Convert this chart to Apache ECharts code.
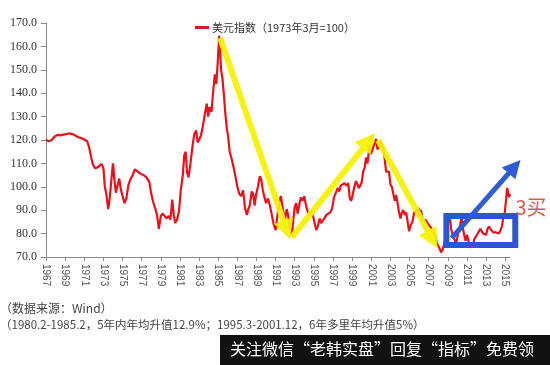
<!DOCTYPE html>
<html><head><meta charset="utf-8">
<script src="https://cdn.jsdelivr.net/npm/echarts@6/dist/echarts.min.js"></script>
<style>html,body{margin:0;padding:0;background:#fff}#c{width:550px;height:365px}</style>
</head><body><div id="c"></div>
<script>
// ---- data ----
const seriesName = '美元指数（1973年3月=100）';
const years = [1967.0,1967.3,1967.6,1967.9,1968.2,1968.5,1968.8,1969.1,1969.4,1969.6,1969.8,1970.1,1970.4,1970.7,1971.0,1971.3,1971.5,1971.7,1971.9,1972.1,1972.4,1972.6,1972.8,1973.0,1973.15,1973.3,1973.5,1973.6,1973.75,1973.9,1974.0,1974.15,1974.3,1974.5,1974.65,1974.8,1975.0,1975.2,1975.4,1975.6,1975.8,1976.0,1976.3,1976.6,1976.9,1977.2,1977.5,1977.8,1978.0,1978.2,1978.4,1978.6,1978.8,1979.0,1979.2,1979.4,1979.6,1979.8,1980.0,1980.2,1980.35,1980.5,1980.7,1980.9,1981.1,1981.3,1981.45,1981.6,1981.75,1981.9,1982.1,1982.3,1982.5,1982.7,1982.85,1983.0,1983.2,1983.4,1983.6,1983.8,1983.95,1984.1,1984.3,1984.5,1984.65,1984.8,1984.95,1985.1,1985.2,1985.3,1985.45,1985.6,1985.75,1985.9,1986.05,1986.2,1986.4,1986.6,1986.8,1987.0,1987.2,1987.4,1987.6,1987.8,1988.0,1988.15,1988.3,1988.5,1988.65,1988.8,1988.95,1989.15,1989.35,1989.5,1989.65,1989.8,1990.0,1990.2,1990.4,1990.6,1990.8,1991.0,1991.2,1991.4,1991.55,1991.7,1991.85,1992.0,1992.15,1992.3,1992.45,1992.6,1992.7,1992.85,1993.0,1993.15,1993.3,1993.5,1993.65,1993.8,1994.0,1994.15,1994.3,1994.5,1994.65,1994.8,1994.95,1995.1,1995.25,1995.4,1995.6,1995.75,1995.9,1996.1,1996.3,1996.5,1996.7,1996.9,1997.1,1997.3,1997.5,1997.65,1997.8,1998.0,1998.2,1998.4,1998.6,1998.75,1998.9,1999.05,1999.2,1999.4,1999.55,1999.7,1999.85,2000.0,2000.15,2000.3,2000.45,2000.6,2000.75,2000.85,2000.95,2001.1,2001.25,2001.4,2001.5,2001.65,2001.8,2001.95,2002.1,2002.25,2002.4,2002.55,2002.7,2002.85,2003.0,2003.15,2003.3,2003.45,2003.6,2003.75,2003.9,2004.05,2004.2,2004.35,2004.5,2004.65,2004.8,2004.95,2005.1,2005.3,2005.45,2005.6,2005.75,2005.9,2006.05,2006.2,2006.35,2006.5,2006.65,2006.8,2006.95,2007.1,2007.25,2007.4,2007.55,2007.7,2007.85,2008.0,2008.15,2008.3,2008.45,2008.55,2008.7,2008.85,2008.95,2009.1,2009.2,2009.35,2009.5,2009.7,2009.85,2009.95,2010.1,2010.3,2010.45,2010.55,2010.7,2010.85,2011.0,2011.15,2011.3,2011.45,2011.6,2011.75,2011.9,2012.05,2012.2,2012.4,2012.55,2012.7,2012.85,2013.0,2013.15,2013.3,2013.45,2013.6,2013.75,2013.9,2014.05,2014.2,2014.35,2014.5,2014.65,2014.8,2014.95,2015.1,2015.2,2015.3,2015.4,2015.5];
const dxy = [120.0,119.5,120.0,121.5,122.2,122.0,122.3,122.5,122.8,123.5,122.5,121.8,121.2,120.8,120.2,119.5,117.0,113.0,109.5,108.0,108.3,109.0,109.8,108.0,100.0,97.0,90.5,93.0,99.0,106.0,110.0,103.0,97.5,101.0,103.5,99.5,96.0,93.0,95.0,100.5,103.0,104.5,107.5,106.5,105.5,105.0,104.0,102.0,97.0,93.5,91.0,88.0,82.0,87.5,88.5,89.0,86.5,87.5,86.0,94.5,88.0,84.5,86.0,89.5,99.0,105.0,113.5,115.0,106.0,104.0,110.0,117.0,122.5,124.0,119.0,120.0,122.0,126.0,131.0,135.5,130.0,134.0,132.0,142.0,148.0,144.0,153.0,164.5,158.0,150.0,146.0,139.0,131.0,125.0,121.0,115.0,112.0,108.5,104.5,100.0,97.0,96.0,98.5,91.0,88.0,90.5,92.0,98.0,97.0,92.0,96.5,100.0,104.5,103.0,99.0,96.0,93.0,95.0,92.0,88.0,84.0,81.5,88.0,94.0,96.0,92.0,88.5,86.0,90.5,88.0,84.0,81.0,79.0,86.0,91.5,93.0,88.5,93.0,95.5,94.0,96.0,92.5,90.0,88.0,89.5,88.5,87.0,84.0,81.5,83.0,86.5,84.5,85.5,86.5,88.0,87.5,89.0,90.5,95.5,97.5,99.5,98.0,100.5,100.0,101.5,100.5,101.5,95.0,94.0,96.5,99.5,102.5,103.0,99.5,100.5,102.0,106.5,108.0,112.5,110.0,115.0,118.0,114.0,115.5,117.5,119.0,120.5,116.0,117.0,119.5,120.0,116.5,112.0,106.5,107.0,106.5,101.0,100.0,97.0,94.0,96.5,93.0,89.0,86.5,89.0,90.0,88.0,89.0,85.0,81.0,83.5,85.0,88.5,90.0,89.0,91.0,89.0,90.0,86.5,85.0,86.0,85.0,84.0,84.5,82.5,82.0,80.5,79.0,76.0,75.5,73.5,72.0,73.0,72.5,77.0,85.5,82.0,86.5,88.0,82.0,79.5,77.5,75.5,77.5,80.5,84.0,87.5,83.0,79.5,77.0,79.5,77.0,74.0,75.0,74.0,77.5,78.5,79.5,79.0,82.0,82.5,80.0,80.5,79.5,82.0,83.0,82.0,82.5,80.5,80.5,80.5,79.8,80.0,80.5,83.0,87.0,89.0,95.0,99.5,97.5,95.5,97.0];
const yearStart = 1967, yearEnd = 2015.5, yearStep = 2;
const yMin = 70, yMax = 170, yStep = 10;
// annotation anchors (data space)
const yellowArrows = [[[1985.2,163.6],[1992.5,77.5]],[[1992.7,78.5],[2001.4,123.0]],[[2001.7,120.0],[2007.9,73.8]]];
const blueBox = [[2008.85,87.5],[2016.05,75.1]];
const blueArrow = [[2009.4,78.1],[2016.6,111.5]];
const buyLabel = {text:'3买', at:[2017.7,91.0]};
const sourceNote = '（数据来源：Wind）';
const rangeNote = '（1980.2-1985.2，5年内年均升值12.9%；1995.3-2001.12，6年多里年均升值5%）';
const bannerText = '关注微信“老韩实盘”回复“指标”免费领';

const off = v => v - yearStart;
const chart = echarts.init(document.getElementById('c'), null, {renderer:'canvas'});
const lineData = years.map((y,i)=>[off(y), dxy[i]]);

chart.setOption({
  animation:false,
  backgroundColor:'#fff',
  grid:{left:46, right:40, top:23, bottom:108},
  legend:{
    data:[seriesName], left:190, top:17, icon:'rect', itemWidth:14, itemHeight:3, itemGap:4,
    textStyle:{fontFamily:'Noto Sans CJK SC', fontSize:11, color:'#333', padding:[0,0,0,-2]}
  },
  xAxis:{
    type:'value', min:off(yearStart), max:off(yearEnd), interval:yearStep,
    axisLine:{lineStyle:{color:'#888', width:1}},
    axisTick:{show:true, length:4, lineStyle:{color:'#888'}},
    splitLine:{show:false},
    axisLabel:{rotate:-90, margin:7, fontFamily:'Liberation Sans', fontSize:10, color:'#555',
      showMaxLabel:false,
      formatter:v=>Number.isInteger(v)?String(v+yearStart):''}
  },
  yAxis:{
    type:'value', min:yMin, max:yMax, interval:yStep,
    axisLine:{show:true, lineStyle:{color:'#888', width:1}},
    axisTick:{show:true, length:5, lineStyle:{color:'#888'}},
    splitLine:{show:false},
    axisLabel:{margin:9, fontFamily:'Liberation Serif', fontSize:12, color:'#333', formatter:v=>v.toFixed(1)}
  },
  series:[{
    name:seriesName, type:'line', data:lineData, symbol:'none',
    lineStyle:{color:'#e8121c', width:2.2}, itemStyle:{color:'#e8121c'}
  }]
});

// annotations placed through the chart's own scales
const px = p => chart.convertToPixel({gridIndex:0}, [off(p[0]), p[1]]);
function arrow(p0, p1, color, width, headLen, headW, z){
  const a = px(p0), b = px(p1);
  const dx = b[0]-a[0], dy = b[1]-a[1], L = Math.hypot(dx,dy);
  const ux = dx/L, uy = dy/L, nx = -uy, ny = ux;
  const bx = b[0]-ux*headLen, by = b[1]-uy*headLen;
  return [
    {type:'line', z:z, shape:{x1:a[0], y1:a[1], x2:bx+ux*2, y2:by+uy*2}, style:{stroke:color, lineWidth:width, lineCap:'butt'}},
    {type:'polygon', z:z, shape:{points:[[b[0],b[1]],[bx+nx*headW/2, by+ny*headW/2],[bx-nx*headW/2, by-ny*headW/2]]}, style:{fill:color}}
  ];
}
const g = [];
yellowArrows.forEach(a=>g.push(...arrow(a[0], a[1], 'rgba(245,242,0,0.92)', 6, 20, 20, 10)));
const b0 = px(blueBox[0]), b1 = px(blueBox[1]);
g.push({type:'rect', z:11, shape:{x:b0[0], y:b0[1], width:b1[0]-b0[0], height:b1[1]-b0[1]}, style:{fill:'none', stroke:'#2e55d0', lineWidth:6}});
g.push(...arrow(blueArrow[0], blueArrow[1], '#2e5bd6', 5, 18, 18, 12));
const lp = px(buyLabel.at);
g.push({type:'text', z:12, x:lp[0], y:lp[1], style:{text:buyLabel.text, font:'20px "Noto Sans CJK SC"', fill:'#e8554f', align:'center', verticalAlign:'middle'}});
g.push({type:'text', left:0, top:302, style:{text:sourceNote, font:'12px "Noto Sans CJK SC"', fill:'#444'}});
g.push({type:'text', left:0, top:319, style:{text:rangeNote, font:'11.5px "Noto Sans CJK SC"', fill:'#444'}});
g.push({type:'rect', shape:{x:220, y:335, width:330, height:30}, style:{fill:'#111'}, z:20});
g.push({type:'text', left:230, top:341, z:21, style:{text:bannerText, font:'16px "Noto Sans CJK SC"', fill:'#fff'}});
chart.setOption({graphic:g});
</script></body></html>
